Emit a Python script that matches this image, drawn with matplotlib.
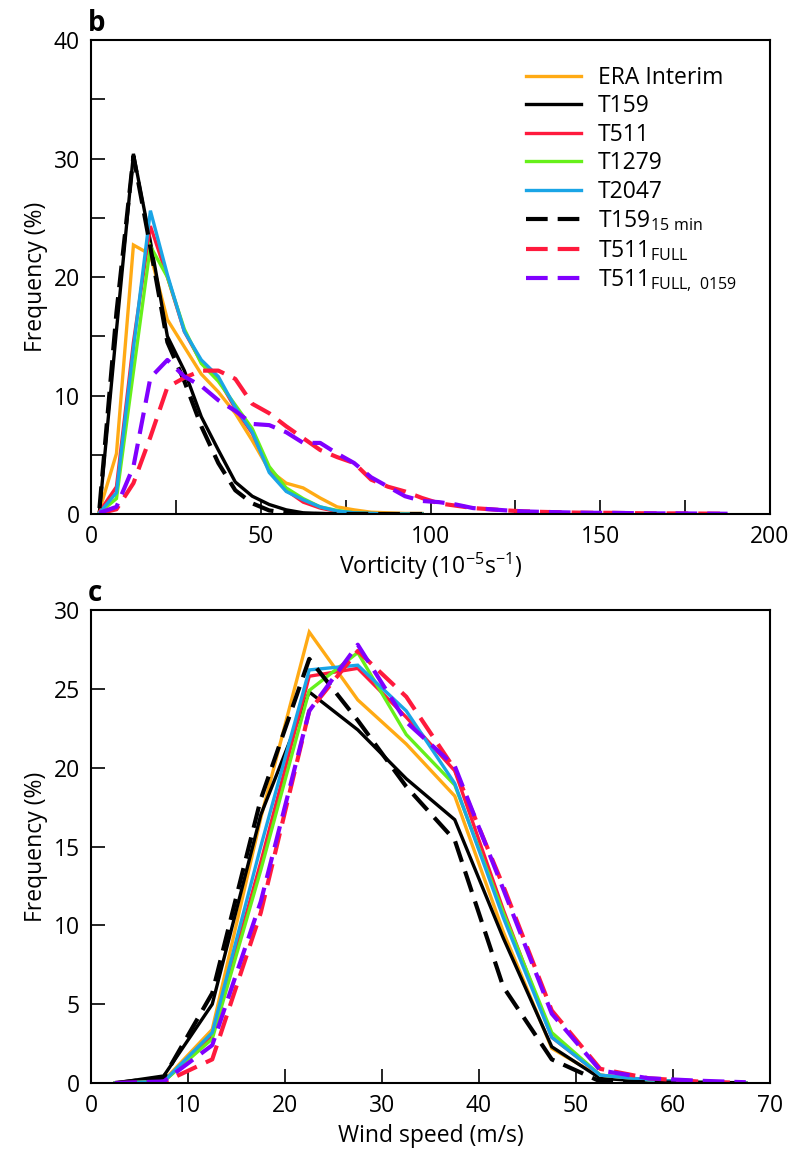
import numpy as np
import matplotlib
matplotlib.use("Agg")
import matplotlib.pyplot as plt
from matplotlib.ticker import MultipleLocator

plt.rcParams['font.family'] = ['Open Sans', 'DejaVu Sans']
plt.rcParams['mathtext.default'] = 'regular'

# Panel b: vorticity distributions (bin centres every 5 units)
vort_bins = np.arange(2.5, 100, 5)
vort_bins_full = np.arange(2.5, 190, 5)

vort_era = [0.3, 5.1, 22.7, 21.9, 16.4, 14.1, 11.8, 10.3, 8.5, 6.2,
            3.7, 2.6, 2.2, 1.35, 0.6, 0.35, 0.15, 0.1, 0.05, 0.05]
vort_t159 = [0.2, 15.5, 30.4, 23.0, 15.0, 12.1, 8.2, 5.4, 2.7, 1.5,
             0.8, 0.35, 0.1, 0.05, 0, 0, 0, 0, 0, 0]
vort_t511 = [0.2, 2.3, 14.5, 24.3, 20.0, 15.4, 12.8, 11.4, 8.9, 6.8,
             3.8, 2.0, 1.0, 0.5, 0.2, 0.1, 0.05, 0, 0, 0]
vort_t1279 = [0.1, 1.3, 12.0, 22.6, 20.0, 15.6, 12.7, 11.2, 9.2, 7.2,
              4.0, 2.2, 1.3, 0.6, 0.3, 0.1, 0.05, 0, 0, 0]
vort_t2047 = [0.1, 1.8, 14.0, 25.6, 20.2, 15.4, 13.0, 11.6, 9.0, 6.9,
              3.5, 1.9, 1.2, 0.6, 0.25, 0.1, 0.05, 0, 0, 0]
vort_t159_15 = [0.5, 17.0, 30.2, 22.5, 14.5, 11.2, 7.4, 4.3, 2.0, 0.9,
                0.3, 0.1, 0, 0, 0, 0, 0, 0, 0, 0]
vort_t511_full = [0.05, 0.4, 2.6, 6.5, 10.7, 11.5, 12.1, 12.1, 11.4, 9.3,
                  8.5, 7.4, 6.4, 5.4, 4.8, 4.3, 2.9, 2.3, 1.9, 1.35,
                  0.9, 0.7, 0.5, 0.4, 0.3, 0.22, 0.18, 0.15, 0.12, 0.1,
                  0.1, 0.08, 0.06, 0.05, 0.05, 0.04, 0.03, 0.02]
vort_t511_full_0159 = [0.1, 0.6, 4.0, 11.5, 13.0, 11.6, 10.8, 9.6, 8.7, 7.6,
                       7.5, 6.9, 6.0, 6.0, 5.1, 4.3, 3.1, 2.3, 1.5, 1.1,
                       1.0, 0.8, 0.5, 0.4, 0.3, 0.22, 0.18, 0.15, 0.12, 0.1,
                       0.1, 0.08, 0.06, 0.05, 0.05, 0.04, 0.03, 0.02]

# Panel c: wind speed distributions
wind_bins = np.arange(2.5, 70, 5)
wind_era = [0, 0.15, 3.4, 16.8, 28.6, 24.3, 21.5, 18.2, 9.6, 2.2, 0.4, 0.15, 0.05, 0]
wind_t159 = [0, 0.45, 5.0, 17.0, 24.8, 22.4, 19.3, 16.7, 9.2, 2.3, 0.3, 0.1, 0.05, 0]
wind_t511 = [0, 0.1, 3.0, 14.0, 25.8, 26.3, 23.2, 19.8, 11.0, 2.9, 0.5, 0.2, 0.05, 0]
wind_t1279 = [0, 0.1, 2.8, 13.5, 24.9, 27.3, 22.1, 18.9, 10.8, 3.2, 0.5, 0.2, 0.05, 0]
wind_t2047 = [0, 0.1, 3.2, 15.0, 26.2, 26.5, 23.6, 19.0, 10.5, 2.9, 0.5, 0.2, 0.05, 0]
wind_t159_15 = [0, 0.35, 5.7, 18.0, 26.9, 23.0, 18.8, 15.4, 6.1, 1.5, 0.1, 0.05, 0, 0]
wind_t511_full = [0, 0.05, 1.5, 10.8, 23.6, 27.4, 24.5, 19.9, 12.5, 4.6, 0.9, 0.3, 0.1, 0]
wind_t511_full_0159 = [0, 0.1, 2.4, 11.5, 23.6, 27.8, 22.9, 20.1, 12.3, 4.4, 0.8, 0.3, 0.15, 0.05]

labels = ['ERA Interim', 'T159', 'T511', 'T1279', 'T2047',
          r'T159$_{\mathregular{15\ min}}$', r'T511$_{\mathregular{FULL}}$',
          r'T511$_{\mathregular{FULL,\ 0159}}$']
colors = ['#FFAA14', 'black', '#FF1A3D', '#66F01A', '#1AA5E6',
          'black', '#FF1A3D', '#8000FF']
dashed = [False, False, False, False, False, True, True, True]

DASHES = (5.2, 2.4)
FS = 16.5


def draw(ax, xs, series):
    for x, y, lab, c, d in zip(xs, series, labels, colors, dashed):
        if d:
            ax.plot(x, y, color=c, lw=3.0, dashes=DASHES, label=lab)
        else:
            ax.plot(x, y, color=c, lw=2.4, label=lab, solid_joinstyle='miter')


def style(ax):
    ax.tick_params(which='both', direction='in', length=10, width=1.2,
                   labelsize=FS, pad=8, top=False, right=False)
    for s in ax.spines.values():
        s.set_linewidth(1.5)


fig = plt.figure(figsize=(7.94, 11.54), dpi=100)
ax1 = fig.add_axes([0.1146, 0.5546, 0.8552, 0.4107])
ax2 = fig.add_axes([0.1146, 0.0615, 0.8552, 0.4099])

xs1 = [vort_bins] * 6 + [vort_bins_full] * 2
draw(ax1, xs1, [vort_era, vort_t159, vort_t511, vort_t1279, vort_t2047,
                vort_t159_15, vort_t511_full, vort_t511_full_0159])
ax1.set_xlim(0, 200)
ax1.set_ylim(0, 40)
ax1.xaxis.set_major_locator(MultipleLocator(50))
ax1.xaxis.set_minor_locator(MultipleLocator(25))
ax1.yaxis.set_major_locator(MultipleLocator(10))
ax1.yaxis.set_minor_locator(MultipleLocator(5))
style(ax1)
ax1.set_xlabel(r'Vorticity (10$^{\mathregular{-5}}$s$^{\mathregular{-1}}$)', fontsize=FS, labelpad=1)
ax1.set_ylabel('Frequency (%)', fontsize=FS, labelpad=4)
ax1.text(-0.005, 1.005, 'b', transform=ax1.transAxes, fontsize=20,
         fontweight='bold', ha='left', va='bottom')
ax1.legend(loc='upper right', bbox_to_anchor=(0.975, 0.98), frameon=False,
           fontsize=FS, handlelength=2.4, handletextpad=0.75,
           labelspacing=0.2, borderaxespad=0.3)

xs2 = [wind_bins] * 8
draw(ax2, xs2, [wind_era, wind_t159, wind_t511, wind_t1279, wind_t2047,
                wind_t159_15, wind_t511_full, wind_t511_full_0159])
ax2.set_xlim(0, 70)
ax2.set_ylim(0, 30)
ax2.xaxis.set_major_locator(MultipleLocator(10))
ax2.yaxis.set_major_locator(MultipleLocator(5))
style(ax2)
ax2.set_xlabel('Wind speed (m/s)', fontsize=FS, labelpad=4)
ax2.set_ylabel('Frequency (%)', fontsize=FS, labelpad=4)
ax2.text(-0.005, 1.005, 'c', transform=ax2.transAxes, fontsize=20,
         fontweight='bold', ha='left', va='bottom')

fig.savefig('out.png', dpi=100)
